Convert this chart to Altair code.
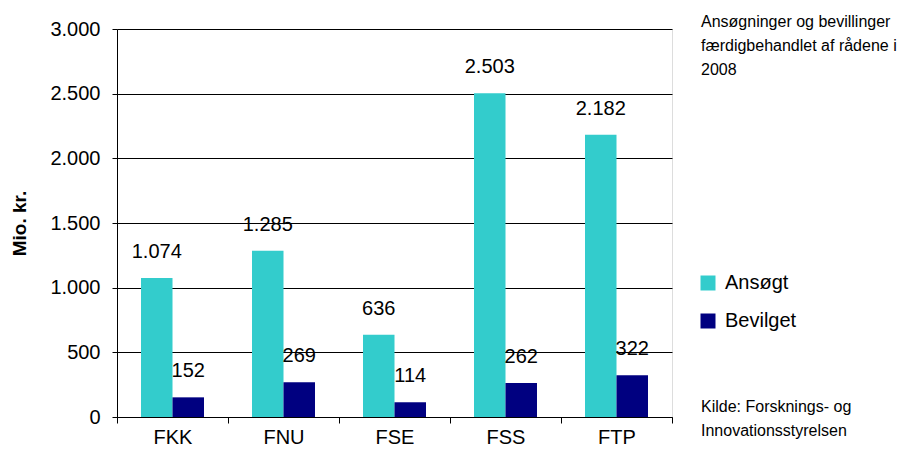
import altair as alt
import pandas as pd

categories = ["FKK", "FNU", "FSE", "FSS", "FTP"]
series = ["Ansøgt", "Bevilget"]
ansoegt = [1074, 1285, 636, 2503, 2182]
bevilget = [152, 269, 114, 262, 322]
colors = ["#33CCCC", "#000080"]
y_ticks = [0, 500, 1000, 1500, 2000, 2500, 3000]
note_top = "Ansøgninger og bevillinger\nfærdigbehandlet af rådene i\n2008"
note_bottom = "Kilde: Forsknings- og\nInnovationsstyrelsen"

rows = []
for c, a, b in zip(categories, ansoegt, bevilget):
    rows.append({"category": c, "series": series[0], "value": a})
    rows.append({"category": c, "series": series[1], "value": b})
df = pd.DataFrame(rows)
df["label"] = df["value"].map(lambda v: f"{v:,}".replace(",", "."))

FONT = "Liberation Sans"

x_enc = alt.X(
    "category:N",
    sort=categories,
    scale=alt.Scale(paddingInner=0, paddingOuter=0),
    axis=alt.Axis(
        title=None,
        labelAngle=0,
        tickBand="extent",
        labelFontSize=20,
        labelFont=FONT,
        labelColor="#000000",
        labelPadding=4,
        tickSize=6,
        tickColor="#000000",
        domainColor="#000000",
        grid=False,
    ),
)
xoff_enc = alt.XOffset(
    "series:N", sort=series, scale=alt.Scale(paddingInner=0, paddingOuter=0.762)
)
y_enc = alt.Y(
    "value:Q",
    scale=alt.Scale(domain=[0, 3000], nice=False),
    axis=alt.Axis(
        title="Mio. kr.",
        titleFont=FONT,
        titleFontSize=19,
        titleFontWeight="bold",
        titleColor="#000000",
        titlePadding=20,
        values=y_ticks,
        labelExpr="replace(format(datum.value, ','), ',', '.')",
        labelFontSize=20,
        labelFont=FONT,
        labelColor="#000000",
        labelPadding=12,
        tickSize=5,
        tickColor="#000000",
        domainColor="#000000",
        gridColor="#000000",
        gridWidth=1,
    ),
)

bars = alt.Chart(df).mark_bar().encode(
    x=x_enc,
    xOffset=xoff_enc,
    y=y_enc,
    color=alt.Color(
        "series:N",
        sort=series,
        scale=alt.Scale(domain=series, range=colors),
        legend=alt.Legend(
            orient="none",
            legendX=581,
            legendY=244,
            title=None,
            symbolType="square",
            symbolSize=225,
            symbolStrokeWidth=0,
            labelFontSize=20,
            labelFont=FONT,
            labelColor="#000000",
            rowPadding=18,
            labelOffset=7,
        ),
    ),
)

labels = alt.Chart(df).mark_text(
    fontSize=20, font=FONT, color="#000000", baseline="alphabetic", dy=-20
).encode(x=x_enc, xOffset=xoff_enc, y=y_enc, text="label:N")

note1 = alt.Chart(pd.DataFrame({"t": [note_top]})).mark_text(
    align="left", baseline="top", fontSize=16, font=FONT, color="#000000",
    lineBreak="\n", lineHeight=24,
).encode(x=alt.value(584), y=alt.value(-15), text="t:N")
note2 = alt.Chart(pd.DataFrame({"t": [note_bottom]})).mark_text(
    align="left", baseline="top", fontSize=16, font=FONT, color="#000000",
    lineBreak="\n", lineHeight=24,
).encode(x=alt.value(584), y=alt.value(370), text="t:N")

chart = (
    alt.layer(bars, labels, note1, note2)
    .properties(
        width=555,
        height=388,
        autosize=alt.AutoSizeParams(type="none"),
        padding={"left": 109, "top": 21, "right": 236, "bottom": 32},
    )
    .configure_view(strokeWidth=0)
    .configure(background="#FFFFFF")
)

chart.save("out.html", embed_options={"renderer": "svg", "actions": False})
